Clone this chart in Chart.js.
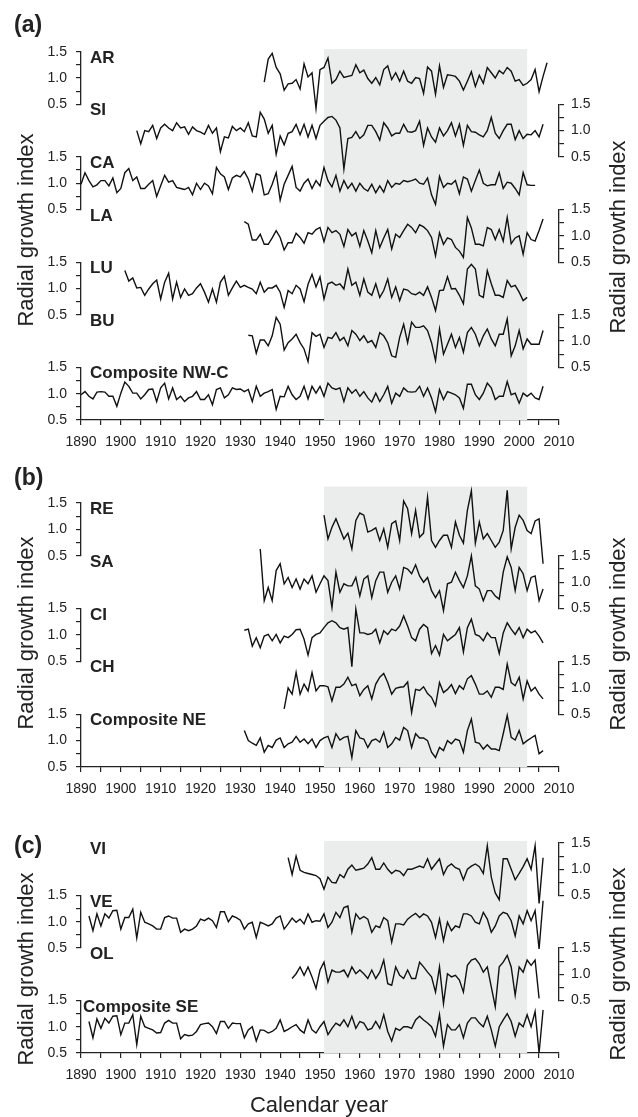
<!DOCTYPE html>
<html lang="en">
<head>
<meta charset="UTF-8">
<title>Radial growth index</title>
<script src="https://cdn.jsdelivr.net/npm/chart.js"></script>
<style>
  body { margin: 0; background: #fff; font-family: "Liberation Sans", Arial, sans-serif; color: #222; }
  #page { position: relative; width: 638px; height: 1117px; overflow: hidden; }
  canvas { position: absolute; left: 0; }
  .panel { position: absolute; left: 14px; font-weight: bold; font-size: 23px; line-height: 23px; }
  .ytitle { position: absolute; font-size: 22px; line-height: 22px; white-space: nowrap;
            transform: translate(-50%, -50%) rotate(-90deg); }
  .xtitle { position: absolute; font-size: 22px; line-height: 22px; white-space: nowrap;
            transform: translate(-50%, -50%); }
</style>
</head>
<body>
<div id="page">
  <canvas id="chartA" width="638" height="460" style="top:0px"></canvas>
  <canvas id="chartB" width="638" height="347" style="top:460px"></canvas>
  <canvas id="chartC" width="638" height="286" style="top:807px"></canvas>

  <div class="panel" style="top:13px">(a)</div>
  <div class="panel" style="top:466px">(b)</div>
  <div class="panel" style="top:834px">(c)</div>

  <div class="ytitle" style="left:25.7px; top:229.5px">Radial growth index</div>
  <div class="ytitle" style="left:617.5px; top:236.5px">Radial growth index</div>
  <div class="ytitle" style="left:25.7px; top:633px">Radial growth index</div>
  <div class="ytitle" style="left:617.5px; top:634px">Radial growth index</div>
  <div class="ytitle" style="left:25.7px; top:969px">Radial growth index</div>
  <div class="ytitle" style="left:617.5px; top:963.5px">Radial growth index</div>
  <div class="xtitle" style="left:319px; top:1104.5px">Calendar year</div>
</div>

<script>
  // x range and the shaded calibration period
  const yearRange = [1890, 2010];
  const shadeYears = [1951, 2002];

  // ---- panel (a) ----
  const AR_START = 1936;
  const AR = [0.92,1.36,1.47,1.2,1.08,0.77,0.89,0.9,0.97,0.79,
    1.27,1.02,1.1,0.42,1.16,1.2,1.38,0.9,0.97,1.13,
    1.01,1.03,1.05,1.25,1.1,1.15,0.99,0.9,1.01,0.87,
    1.16,1.23,0.97,1.1,0.94,1.13,0.94,0.9,1.01,0.99,
    0.71,1.21,1.13,0.69,1.23,0.82,1.06,1.05,1.03,0.94,
    0.77,0.94,1.12,0.84,1.05,0.9,1.2,1.1,1.0,1.14,
    1.08,1.2,1.13,0.94,0.97,0.86,0.9,0.97,1.16,0.74,
    1.03,1.29];

  const SI_START = 1904;
  const SI = [1.0,0.75,1.0,0.98,1.1,0.85,1.05,1.12,1.05,1.0,
    1.15,1.05,1.07,0.93,1.07,1.0,0.97,0.93,1.1,0.95,
    1.05,0.6,0.88,0.86,1.08,1.0,1.05,0.98,1.15,0.9,
    0.88,1.35,1.22,0.95,1.1,0.55,0.9,0.73,0.95,0.98,
    1.12,0.92,1.12,0.88,1.1,0.85,1.1,1.18,1.25,1.27,
    1.2,1.05,0.27,0.85,0.87,0.98,0.85,0.92,1.1,1.1,
    0.98,0.82,1.15,1.05,0.9,0.95,0.95,1.12,0.98,0.97,
    1.0,1.18,0.72,1.05,0.88,0.78,1.05,0.9,1.0,1.15,
    0.9,1.12,0.72,1.1,0.98,0.97,0.92,0.88,1.0,1.25,
    0.95,0.85,1.0,1.12,1.12,0.83,1.0,0.85,0.93,0.92,
    1.0,0.88,1.12];

  const CA_START = 1890;
  const CA = [0.98,1.2,1.05,0.93,0.97,1.05,1.05,0.95,1.1,0.82,
    0.9,1.2,1.28,1.05,1.12,0.9,0.9,0.98,1.05,0.75,
    0.95,1.15,1.02,1.05,0.92,0.9,0.88,0.92,0.78,1.0,
    0.88,1.0,0.95,0.8,1.3,1.18,1.12,0.88,1.1,1.15,
    1.12,1.22,1.08,0.85,1.18,1.15,0.78,0.8,0.98,1.2,
    0.68,0.98,1.15,1.32,0.92,0.85,1.0,1.08,0.9,1.05,
    0.95,1.3,1.05,0.93,1.15,0.85,1.05,0.9,1.0,0.85,
    1.0,0.9,0.85,0.98,0.82,0.95,0.83,1.05,0.92,1.0,
    0.98,1.05,1.03,1.05,1.08,1.0,0.98,1.1,0.78,0.6,
    1.13,0.92,1.0,0.98,1.05,0.8,1.12,1.08,0.85,1.05,
    1.25,1.0,0.95,0.97,0.97,1.2,0.9,1.02,1.0,0.9,
    0.78,1.2,0.97,0.96,0.96];

  const LA_START = 1931;
  const LA = [1.27,1.22,0.92,0.92,1.03,0.84,0.84,0.96,1.1,0.97,
    0.73,0.87,0.87,1.05,0.97,0.86,1.06,1.03,1.12,1.16,
    0.89,1.16,1.06,1.1,1.03,0.8,1.12,1.0,1.06,0.8,
    1.1,0.9,0.68,1.1,0.78,0.96,1.12,0.75,1.03,0.97,
    1.1,1.22,1.16,1.06,1.21,1.17,1.1,0.97,0.62,1.06,
    0.84,0.96,0.93,0.78,0.71,0.59,1.35,1.15,0.84,0.84,
    0.81,1.16,1.12,0.93,1.12,0.9,1.35,0.85,0.96,1.0,
    0.65,1.06,0.93,0.9,1.1,1.32];

  const LU_START = 1901;
  const LU = [1.34,1.14,1.2,1.01,1.02,0.87,0.99,1.09,1.16,0.8,
    1.12,1.29,0.8,1.12,0.83,0.99,0.87,0.9,1.01,1.09,
    0.93,0.74,0.99,0.74,1.12,1.23,0.87,1.01,1.14,1.02,
    1.06,1.02,0.99,0.9,1.12,0.93,1.01,1.01,1.06,0.93,
    0.64,0.96,0.9,1.06,0.99,0.75,1.08,1.27,1.03,1.22,
    0.8,1.09,1.12,1.06,1.09,0.99,1.37,1.06,1.12,0.87,
    1.18,0.93,0.87,1.09,0.83,0.96,1.18,0.83,1.03,0.77,
    0.99,0.97,0.9,0.88,0.93,0.87,1.03,0.83,0.58,0.96,
    0.97,1.22,0.99,1.0,0.87,0.71,1.37,1.46,1.37,0.87,
    0.83,1.34,1.09,0.87,0.87,0.83,1.15,1.03,1.06,0.93,
    0.77,0.83];

  const BU_START = 1932;
  const BU = [1.11,1.1,0.77,1.02,1.02,0.91,1.1,1.45,1.32,0.83,
    0.97,1.04,1.13,0.97,0.85,0.61,1.16,1.09,1.13,0.88,
    1.07,1.05,1.16,1.01,1.07,0.91,1.2,1.13,1.01,1.1,
    0.97,1.01,0.88,1.16,1.1,0.97,0.72,0.69,1.07,1.32,
    0.97,1.36,1.26,1.26,1.29,1.2,0.97,0.63,1.23,0.75,
    0.94,1.13,0.88,1.07,0.79,1.16,1.26,1.13,0.91,1.1,
    1.23,1.04,0.91,1.13,1.13,1.42,0.72,0.91,1.2,0.85,
    1.04,0.94,0.94,0.94,1.2];

  const NWC_START = 1890;
  const NWC = [0.98,1.04,0.95,0.9,1.03,1.04,1.03,0.95,0.95,0.76,
    1.01,1.22,1.14,1.01,1.01,0.9,0.98,1.08,1.09,0.85,
    1.11,1.2,0.9,1.11,0.89,0.95,0.85,0.92,0.95,1.04,
    0.89,0.89,0.98,0.79,1.08,1.11,0.92,0.98,1.11,1.08,
    1.09,1.04,1.08,0.85,1.14,0.95,1.01,1.04,1.08,0.7,
    0.95,0.94,1.14,0.98,0.89,0.95,1.14,0.9,1.14,1.01,
    1.14,0.95,1.2,1.11,1.08,1.11,0.85,1.11,1.01,1.08,
    0.95,1.04,0.92,0.84,1.01,0.85,0.98,1.14,0.82,1.01,
    0.95,1.11,1.04,1.03,1.04,1.14,0.95,1.11,0.92,0.66,
    1.08,0.89,1.04,1.01,0.98,0.92,0.72,1.18,1.18,0.98,
    0.89,1.01,1.2,1.11,0.89,0.95,0.95,1.23,0.98,1.01,
    0.82,1.01,0.95,1.01,0.92,0.89,1.14];

  // ---- panel (b) ----
  const RE_START = 1951;
  const RE = [1.27,0.82,1.04,1.2,1.01,0.82,0.93,0.63,1.17,1.31,
    1.27,0.95,0.98,1.03,0.79,1.01,0.66,1.11,1.16,0.79,
    1.54,1.39,0.92,1.36,0.85,0.93,1.61,0.79,0.66,0.79,
    0.89,0.89,0.66,1.14,0.89,0.74,1.36,1.73,0.74,1.14,
    0.82,0.92,0.79,0.66,0.76,0.98,1.74,0.63,1.04,1.27,
    1.17,0.98,0.92,1.16,1.2,0.35];

  const SA_START = 1935;
  const SA = [1.63,0.65,0.9,0.65,1.22,1.35,0.97,1.09,0.9,1.06,
    0.87,1.06,0.97,1.12,0.81,0.97,1.12,1.03,0.52,1.19,
    0.81,0.97,0.93,0.93,1.09,0.74,1.06,1.12,0.71,1.03,
    1.19,1.19,0.81,1.0,1.12,0.87,1.28,1.25,1.16,1.33,
    1.12,1.0,1.09,0.84,0.71,0.84,0.46,0.97,1.0,1.19,
    1.03,0.9,1.12,1.5,0.93,0.87,0.65,0.84,0.84,0.74,
    0.68,1.19,1.48,1.28,0.84,1.28,1.16,0.84,1.09,1.12,
    0.65,0.87];

  const CI_START = 1931;
  const CI = [1.09,1.11,0.79,0.95,0.76,0.98,1.01,0.89,1.01,0.85,
    0.98,0.95,1.01,1.1,1.11,0.92,0.62,0.95,1.01,1.04,
    1.14,1.23,1.27,1.23,1.14,1.11,1.14,0.4,1.49,1.04,
    1.04,1.01,1.03,1.11,0.85,1.08,1.01,1.11,1.08,1.17,
    1.36,1.17,0.95,0.89,1.11,1.2,1.14,0.65,0.8,0.62,
    1.01,0.89,0.95,1.01,1.14,0.68,1.14,1.3,1.01,0.98,
    0.89,1.04,0.95,0.95,0.65,1.04,1.23,1.11,1.01,1.14,
    0.95,1.11,1.04,1.08,0.98,0.85];

  const CH_START = 1941;
  const CH = [0.6,1.0,0.88,1.29,0.88,1.07,0.94,1.29,0.94,1.04,
    1.04,1.02,0.75,1.01,1.01,1.07,1.2,1.04,1.07,0.85,
    0.97,1.04,0.79,1.07,1.2,1.27,1.1,0.88,0.99,1.01,
    1.02,1.11,0.53,0.97,0.95,1.02,0.89,0.82,0.66,1.1,
    0.91,0.97,1.06,0.89,1.04,0.97,1.17,1.23,1.07,0.88,
    0.88,0.94,0.82,1.01,1.01,0.97,1.45,1.1,1.04,1.2,
    0.79,1.13,0.94,1.01,0.88,0.79];

  const NE_START = 1931;
  const NE = [1.19,1.0,0.95,0.91,1.05,0.78,0.91,0.87,1.01,1.05,
    0.87,0.94,0.97,1.08,0.97,1.03,0.94,1.03,0.87,1.0,
    1.05,1.08,0.87,1.13,1.01,1.06,1.08,0.68,1.19,1.05,
    1.03,0.87,1.0,1.03,0.97,1.16,0.87,0.94,1.06,1.01,
    1.25,1.19,0.87,1.13,1.05,1.05,1.0,0.78,0.68,0.87,
    0.81,1.0,0.94,1.03,1.0,0.78,1.19,1.41,0.97,0.95,
    0.84,0.92,0.84,0.84,0.81,1.13,1.48,1.06,1.01,1.19,
    0.94,1.0,1.05,1.1,0.75,0.81];

  // ---- panel (c) ----
  const VI_START = 1942;
  const VI = [1.22,0.9,1.25,0.98,0.94,0.92,0.9,0.88,0.82,0.62,
    0.85,0.75,0.74,0.9,0.84,1.0,1.08,0.98,1.0,1.02,
    1.1,1.22,1.0,1.0,1.12,1.0,0.92,0.98,0.96,0.88,
    1.0,1.0,1.03,1.06,1.03,1.2,1.0,1.1,1.2,0.9,
    1.05,1.1,1.03,1.0,0.8,1.0,1.06,1.1,1.05,0.92,
    1.45,0.85,0.55,0.42,1.2,1.2,1.0,0.8,0.92,1.05,
    1.2,1.0,1.45,0.35,1.22];

  const VE_START = 1892;
  const VE = [1.11,0.83,1.15,0.92,1.15,1.07,1.21,1.22,0.86,1.08,
    1.08,1.24,0.69,1.18,0.99,0.96,0.92,0.86,0.86,1.08,
    1.11,1.07,1.07,0.8,0.86,0.83,0.86,0.92,1.05,1.02,
    1.07,1.02,0.89,1.19,1.19,1.0,1.11,1.08,1.03,0.86,
    0.96,0.99,0.7,0.99,0.96,0.92,0.96,1.07,1.11,0.86,
    0.96,1.07,0.99,1.05,0.96,1.15,0.99,1.02,1.01,1.15,
    0.89,0.99,1.18,1.08,1.27,1.3,0.8,1.15,1.05,1.1,
    1.05,0.8,0.92,0.89,1.08,1.02,0.61,0.96,0.96,0.94,
    1.05,1.11,1.16,1.08,1.15,1.11,0.99,0.7,1.05,0.64,
    0.99,0.83,0.92,0.89,1.15,1.15,1.11,0.99,0.96,1.18,
    1.05,0.8,0.92,1.11,1.18,1.15,1.02,0.73,1.11,0.96,
    1.21,1.02,1.21,0.48,1.4];

  const OL_START = 1943;
  const OL = [0.92,1.01,1.14,0.98,1.14,0.95,0.73,1.08,1.23,0.85,
    1.08,1.04,1.04,1.08,0.95,1.14,1.01,1.08,1.01,0.92,
    1.08,0.92,1.04,1.27,0.82,0.79,1.14,0.98,0.92,1.08,
    0.92,0.92,1.23,1.14,1.04,0.95,0.66,1.14,0.44,1.01,
    0.95,0.98,0.89,0.66,1.17,1.27,1.3,1.2,1.04,1.14,
    0.76,0.38,1.14,1.23,1.36,1.14,0.6,1.14,1.04,1.27,
    1.17,1.27,0.54];

  const SE_START = 1892;
  const SE = [1.1,0.79,1.15,0.97,1.16,1.07,1.2,1.21,0.85,1.07,
    1.07,1.23,0.66,1.2,1.0,0.97,0.94,0.88,0.89,1.07,
    1.12,1.07,1.07,0.77,0.85,0.83,0.84,0.91,1.04,1.06,
    1.07,1.0,0.87,1.1,1.1,0.97,1.07,1.06,1.06,0.79,
    0.94,1.0,0.73,0.94,0.93,0.88,0.91,0.97,1.13,0.91,
    0.95,1.0,1.04,0.94,0.88,1.13,0.94,0.88,1.0,1.1,
    0.85,0.97,1.07,1.02,1.13,1.0,1.2,0.97,1.1,1.07,
    0.94,0.97,1.1,0.97,1.23,0.91,0.73,0.97,0.93,1.0,
    1.0,0.97,1.13,1.2,1.13,1.07,1.0,0.82,1.23,0.63,
    1.04,0.94,0.94,1.04,0.79,1.07,1.17,1.17,1.07,1.0,
    1.2,0.94,0.63,1.0,1.13,1.25,1.1,0.82,1.07,1.0,
    1.23,1.0,1.29,0.5,1.32];

  const INK = '#222';
  const SHADE = '#ebecec';
  Chart.defaults.font.family = '"Liberation Sans", Arial, sans-serif';
  Chart.defaults.color = INK;

  // one bracket axis (0.5 - 1.5) per series; "gap" axes fill the other side
  function bracketAxis(side, real) {
    return {
      type: 'linear', position: side, stack: side, stackWeight: 1,
      min: 0.5, max: 1.5, clip: false,
      afterFit: s => { s.width = side === 'left' ? 41 : 39; },
      ticks: real ? {
        stepSize: 0.25, autoSkip: false, padding: side === 'left' ? 9 : 7,
        font: { size: 14 }, color: INK,
        callback: v => [0.5, 1, 1.5].includes(v) ? v.toFixed(1) : ''
      } : { display: false },
      grid: real ? { drawOnChartArea: false, tickLength: 5, color: INK, lineWidth: 1.2 } : { display: false },
      border: real ? { color: INK, width: 1.3 } : { display: false }
    };
  }

  const shadePlugin = {
    id: 'shade',
    beforeDatasetsDraw(chart, args, opts) {
      const x = chart.scales.x, top = chart.scales.s0, ctx = chart.ctx;
      const x0 = x.getPixelForValue(shadeYears[0]);
      const x1 = x.getPixelForValue(shadeYears[1]);
      const y0 = top.getPixelForValue(opts.top);
      ctx.save();
      ctx.fillStyle = SHADE;
      ctx.fillRect(x0, y0, x1 - x0, chart.chartArea.bottom - y0);
      ctx.restore();
    }
  };

  const namePlugin = {
    id: 'names',
    afterDatasetsDraw(chart, args, opts) {
      const ctx = chart.ctx;
      ctx.save();
      ctx.font = 'bold 17px "Liberation Sans", Arial, sans-serif';
      ctx.fillStyle = INK;
      ctx.textBaseline = 'alphabetic';
      opts.series.forEach((s, i) => {
        const y = chart.scales['s' + i].getPixelForValue(1.5) + 11;
        ctx.fillText(s.name, chart.chartArea.left + (s.inset ?? 9), y);
      });
      ctx.restore();
    }
  };

  function buildPanel(id, series, padTop, shadeTop) {
    const scales = {
      x: {
        type: 'linear', position: 'bottom', min: yearRange[0], max: yearRange[1],
        afterFit: s => { s.height = 40; },
        ticks: {
          stepSize: 5, autoSkip: false, maxRotation: 0, padding: 9,
          font: { size: 14 }, color: INK,
          callback: v => v % 10 === 0 ? String(v) : ''
        },
        grid: { drawOnChartArea: false, tickLength: 5, color: INK, lineWidth: 1.2 },
        border: { color: INK, width: 1.3 }
      }
    };
    // each series gets a slot: its own axis on one side, an empty axis on the other
    const rightAxes = [], leftAxes = [];
    series.forEach((s, i) => {
      const other = s.side === 'left' ? 'right' : 'left';
      (s.side === 'left' ? leftAxes : rightAxes).push(['s' + i, bracketAxis(s.side, true)]);
      (other === 'left' ? leftAxes : rightAxes).push(['g' + i, bracketAxis(other, false)]);
    });
    // the left stack is laid out in reverse definition order
    rightAxes.forEach(([k, v]) => { scales[k] = v; });
    leftAxes.reverse().forEach(([k, v]) => { scales[k] = v; });

    const datasets = series.map((s, i) => ({
      label: s.name,
      yAxisID: 's' + i,
      data: s.values.map((v, k) => ({ x: s.start + k, y: v })),
      borderColor: '#111',
      borderWidth: 1.4,
      pointRadius: 0,
      tension: 0,
      clip: false
    }));

    new Chart(document.getElementById(id), {
      type: 'line',
      data: { datasets },
      options: {
        responsive: false,
        animation: false,
        devicePixelRatio: 1,
        layout: { padding: { top: padTop, left: 40, right: 40, bottom: 0 } },
        scales,
        plugins: {
          legend: { display: false },
          tooltip: { enabled: false },
          shade: { top: shadeTop },
          names: { series }
        }
      },
      plugins: [shadePlugin, namePlugin]
    });
  }

  buildPanel('chartA', [
    { name: 'AR', start: AR_START, values: AR, side: 'left' },
    { name: 'SI', start: SI_START, values: SI, side: 'right' },
    { name: 'CA', start: CA_START, values: CA, side: 'left' },
    { name: 'LA', start: LA_START, values: LA, side: 'right' },
    { name: 'LU', start: LU_START, values: LU, side: 'left' },
    { name: 'BU', start: BU_START, values: BU, side: 'right' },
    { name: 'Composite NW-C', start: NWC_START, values: NWC, side: 'left' }
  ], 51.7, 1.55);

  buildPanel('chartB', [
    { name: 'RE', start: RE_START, values: RE, side: 'left' },
    { name: 'SA', start: SA_START, values: SA, side: 'right' },
    { name: 'CI', start: CI_START, values: CI, side: 'left' },
    { name: 'CH', start: CH_START, values: CH, side: 'right' },
    { name: 'Composite NE', start: NE_START, values: NE, side: 'left' }
  ], 43, 1.81);

  buildPanel('chartC', [
    { name: 'VI', start: VI_START, values: VI, side: 'right' },
    { name: 'VE', start: VE_START, values: VE, side: 'left' },
    { name: 'OL', start: OL_START, values: OL, side: 'right' },
    { name: 'Composite SE', start: SE_START, values: SE, side: 'left', inset: 2 }
  ], 36, 1.54);
</script>
</body>
</html>
